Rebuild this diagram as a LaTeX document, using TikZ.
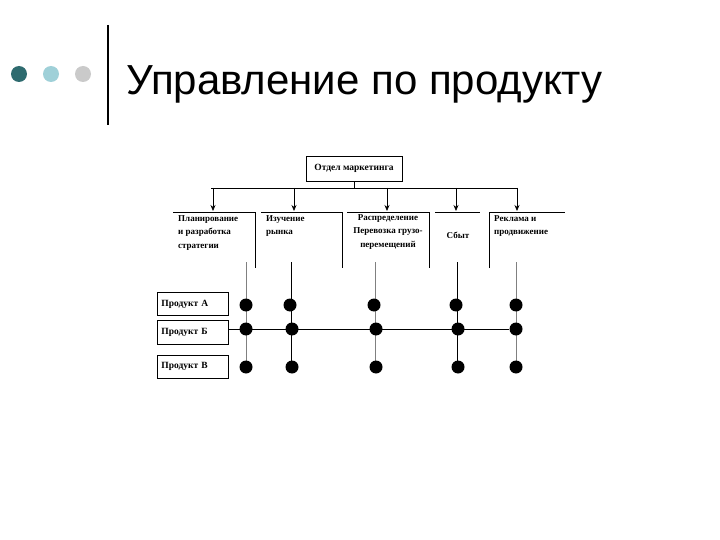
\documentclass[tikz,border=0pt]{standalone}
\usepackage{fontspec}
\setmainfont{Liberation Serif}
\newfontfamily\titlefont{Liberation Sans}
\usetikzlibrary{arrows.meta,positioning}
\definecolor{bulletA}{HTML}{2E6B6F}
\definecolor{bulletB}{HTML}{9FD0D8}
\definecolor{bulletC}{HTML}{CACACA}

\begin{document}
\begin{tikzpicture}[x=1pt,y=-1pt]
  \tikzset{
    box/.style={draw=black, line width=0.8pt, fill=white, inner sep=0pt, font=\bfseries\fontsize{9.5}{12}\selectfont},
    hdr/.style={font=\bfseries\fontsize{9}{13.5}\selectfont, align=left, inner sep=0pt, anchor=north west},
    link/.style={-{Stealth[length=6pt,width=5pt]}, black, line width=0.7pt},
    frame/.style={black, line width=0.8pt},
    grid/.style={black!50, line width=0.7pt},
    gridd/.style={black, line width=0.7pt},
    dot/.style={circle, fill=black, inner sep=0pt, minimum size=13pt}
  }
  \useasboundingbox[fill=white] (0,0) rectangle (720,540);

  % Title with bullets
  \fill[bulletA] (19,74) circle (8);
  \fill[bulletB] (51,74) circle (8);
  \fill[bulletC] (83,74) circle (8);
  \draw[black, line width=2.6pt] (108,25) -- (108,125);
  \node[font=\titlefont\fontsize{42}{44}\selectfont, anchor=base west, inner sep=0pt] (title) at (126,95) {Управление по продукту};

  % X positions of the function columns
  \def\xA{246}
  \def\xB{291}
  \def\xC{375}
  \def\xD{457}
  \def\xE{516}

  % Marketing department
  \node[box, minimum width=96, minimum height=25] (dept) at (354,168.5) {Отдел маркетинга};
  \coordinate (bus) at (354,188);
  \draw[frame] (dept.south) -- (bus);
  \draw[frame] (211,188) -- (517,188);

  % Arrow targets on the headers
  \coordinate (h1) at (213,211);
  \coordinate (h2) at (294,211);
  \coordinate (h3) at (387,211);
  \coordinate (h4) at (456,211);
  \coordinate (h5) at (517,211);
  \draw[link] (h1 |- bus) -- (h1);
  \draw[link] (h2 |- bus) -- (h2);
  \draw[link] (h3 |- bus) -- (h3);
  \draw[link] (h4 |- bus) -- (h4);
  \draw[link] (h5 |- bus) -- (h5);

  % Function headers
  \draw[frame] (173,212) -- (255,212) -- (255,268);
  \draw[frame] (261,212) -- (342,212) -- (342,268);
  \draw[frame] (347,212) -- (429,212) -- (429,268);
  \draw[frame] (435,212) -- (480,212);
  \draw[frame] (489,268) -- (489,212) -- (565,212);

  \node[hdr] (plan) at (178,215) {Планирование\\и разработка\\стратегии};
  \node[hdr] (study) at (266,215) {Изучение\\рынка};
  \node[hdr, align=center, anchor=north] (distr) at (388,214) {Распределение\\Перевозка грузо-\\перемещений};
  \node[hdr, anchor=base] (sales) at (458,239) {Сбыт};
  \node[hdr] (promo) at (494,215) {Реклама и\\продвижение};

  % Products
  \node[box, minimum width=71, minimum height=23, anchor=north west, text width=63, align=left] (pa) at (157,292) {Продукт А};
  \node[box, minimum width=71, minimum height=24, anchor=north west, text width=63, align=left] (pb) at (157,320) {Продукт Б};
  \node[box, minimum width=71, minimum height=23, anchor=north west, text width=63, align=left] (pc) at (157,355) {Продукт В};

  % Column lines down to the last row
  \coordinate (v1) at (\xA,262);
  \coordinate (v2) at (\xB,262);
  \coordinate (v3) at (\xC,262);
  \coordinate (v4) at (\xD,262);
  \coordinate (v5) at (\xE,262);
  \draw[grid] (v1) -- (\xA,367);
  \draw[gridd] (v2) -- (\xB,367);
  \draw[grid] (v3) -- (\xC,367);
  \draw[gridd] (v4) -- (\xD,367);
  \draw[grid] (v5) -- (\xE,367);

  % Dots
  \node[dot] (a1) at (\xA,305) {};
  \node[dot] (a2) at (\xB-1,305) {};
  \node[dot] (a3) at (\xC-1,305) {};
  \node[dot] (a4) at (\xD-1,305) {};
  \node[dot] (a5) at (\xE,305) {};
  \node[dot] (b1) at (\xA,329) {};
  \node[dot] (b2) at (\xB+1,329) {};
  \node[dot] (b3) at (\xC+1,329) {};
  \node[dot] (b4) at (\xD+1,329) {};
  \node[dot] (b5) at (\xE,329) {};
  \node[dot] (c1) at (\xA,367) {};
  \node[dot] (c2) at (\xB+1,367) {};
  \node[dot] (c3) at (\xC+1,367) {};
  \node[dot] (c4) at (\xD+1,367) {};
  \node[dot] (c5) at (\xE,367) {};

  % Product B line
  \draw[frame] (pb.east |- b5) -- (b5);

\end{tikzpicture}
\end{document}
